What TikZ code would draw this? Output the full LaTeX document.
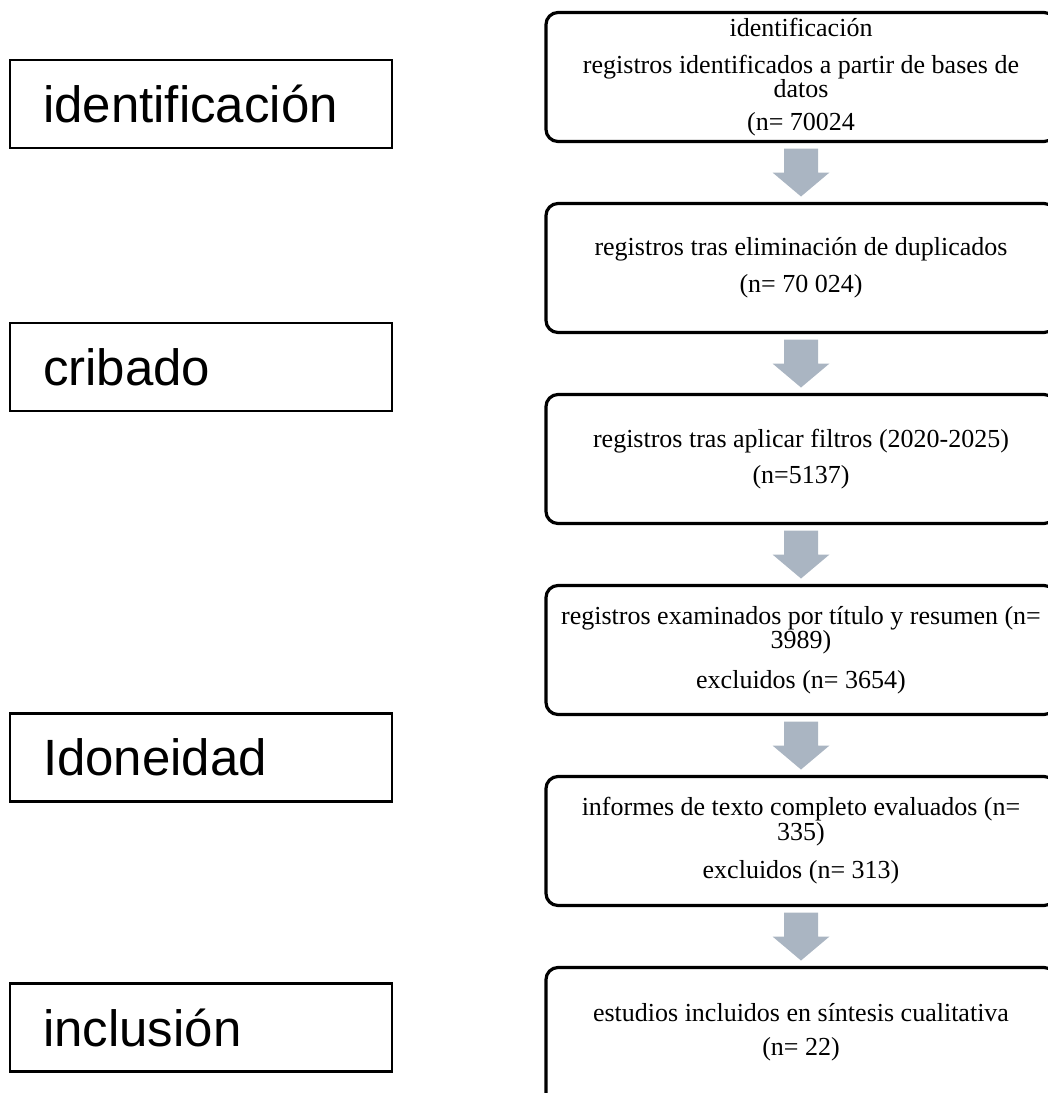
\documentclass[tikz,border=0pt]{standalone}
\usepackage{fontspec}
\setmainfont{Liberation Serif}
\newfontfamily\sansetapa{Liberation Sans}
\usetikzlibrary{positioning,calc}
\definecolor{grisflecha}{RGB}{170,181,194}
\newcommand{\flechatikz}[2]{
% \draw[->] (#1.south) -- (#2.north);
  \path (#1.south) -- (#2.north) coordinate[pos=0.5] (medio);
  \fill[grisflecha] ($(medio)+(-17,-24)$) -- ($(medio)+(17,-24)$) -- ($(medio)+(17,0)$)
    -- ($(medio)+(28.5,0)$) -- ($(medio)+(0,24)$) -- ($(medio)+(-28.5,0)$)
    -- ($(medio)+(-17,0)$) -- cycle;
}

\begin{document}
\begin{tikzpicture}[x=1pt, y=-1pt, node distance=62pt,
  borde/.style={line width=3.2pt, rounded corners=12pt},
  caja/.style={draw, borde, minimum width=510pt,
    minimum height=129pt, inner sep=0pt, outer sep=0pt, align=center,
    font=\fontsize{26}{23}\selectfont},
  etapa/.style={draw, line width=2.2pt, text width=316pt, inner xsep=33pt,
    inner ysep=0pt, minimum height=88pt, outer sep=0pt, align=left,
    font=\sansetapa\fontsize{51}{60}\selectfont}] % {{{
\useasboundingbox (0,0) rectangle (1048,1093);
\clip (0,0) rectangle (1048,1093);
% Etapas {{{
\node[etapa] (ident) at (201,104) {identificación};
\node[etapa] (cribado) at (201,367) {cribado};
\node[etapa] (idoneidad) at (201,757.5) {Idoneidad};
\node[etapa] (inclusion) at (201,1027.5) {inclusión};
% }}}
% Registros {{{
\node[caja] (registros) at (801,77) {identificación\\[14pt]
  registros identificados a partir de bases de\\ datos\\[10pt] (n= 70024};
\node[caja, below=of registros] (duplicados) {registros tras eliminación de duplicados\\[12pt] (n= 70 024)};
\node[caja, below=of duplicados] (filtros) {registros tras aplicar filtros (2020-2025)\\[12pt] (n=5137)};
\node[caja, below=of filtros] (examinados) {registros examinados por título y resumen (n=\\ 3989)\\[15pt] excluidos (n= 3654)};
\node[caja, below=of examinados] (completos) {informes de texto completo evaluados (n=\\ 335)\\[14pt] excluidos (n= 313)};
\node[caja, draw=none, below=of completos] (incluidos) {estudios incluidos en síntesis cualitativa\\[11pt] (n= 22)};
% la ultima caja sigue mas alla del borde inferior
\draw[borde] (incluidos.north west) rectangle ++(510,170);
% }}}
% Flechas
\foreach \a/\b in {registros/duplicados, duplicados/filtros, filtros/examinados,
  examinados/completos, completos/incluidos} {
    \flechatikz{\a}{\b}
}
\end{tikzpicture} % }}}
\end{document}
